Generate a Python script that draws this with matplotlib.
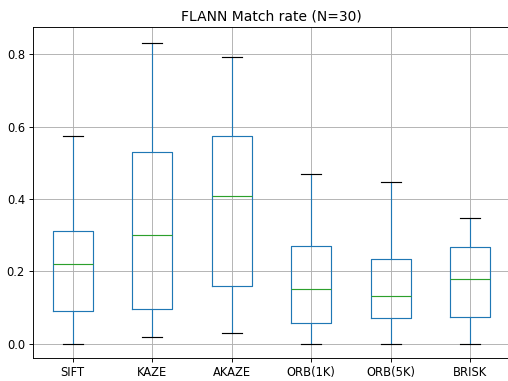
import matplotlib
matplotlib.use("Agg")
import matplotlib.pyplot as plt

labels = ["SIFT", "KAZE", "AKAZE", "ORB(1K)", "ORB(5K)", "BRISK"]
whislo = [0.0, 0.018, 0.029, 0.0, 0.0, 0.0]
q1 = [0.090, 0.095, 0.160, 0.058, 0.070, 0.075]
med = [0.220, 0.299, 0.407, 0.150, 0.133, 0.180]
q3 = [0.312, 0.530, 0.573, 0.270, 0.234, 0.266]
whishi = [0.573, 0.831, 0.791, 0.470, 0.448, 0.346]

stats = [dict(label=l, whislo=a, q1=b, med=c, q3=d, whishi=e, fliers=[])
         for l, a, b, c, d, e in zip(labels, whislo, q1, med, q3, whishi)]

s = 0.83
fig = plt.figure(figsize=(5.08, 3.81), dpi=100)
ax = fig.add_axes([33/508, 1-358/381, (510-33)/508, (358-27)/381])
lw = 1.0 * s
ax.bxp(stats, showfliers=False,
       boxprops=dict(color="#1f77b4", linewidth=lw),
       whiskerprops=dict(color="#1f77b4", linewidth=lw),
       capprops=dict(color="black", linewidth=lw),
       medianprops=dict(color="#2ca02c", linewidth=lw))
ax.grid(True, color="#b0b0b0", linewidth=0.8 * s)
ax.set_axisbelow(True)
ax.set_ylim(-0.0395, 0.875)
ax.tick_params(labelsize=10 * s, length=3.5 * s, width=0.8 * s, pad=3.5 * s)
for sp in ax.spines.values():
    sp.set_linewidth(0.8 * s)
ax.set_title("FLANN Match rate (N=30)", fontsize=12 * s, pad=6 * s)
fig.savefig("out.png", dpi=100)
